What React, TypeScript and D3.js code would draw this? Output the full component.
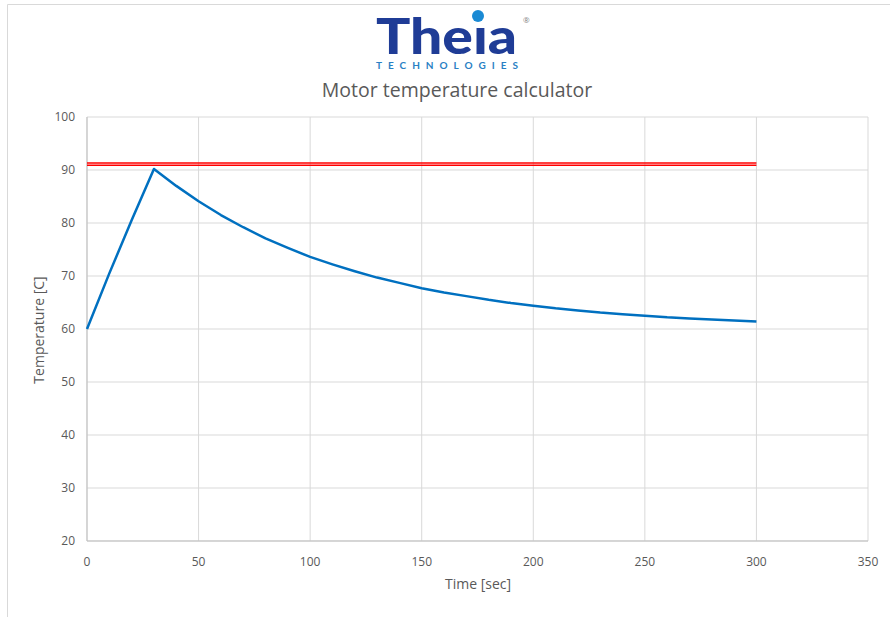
import * as d3 from 'd3'

// chart values
const timeSec = [0, 10, 20, 30, 40, 50, 60, 70, 80, 90, 100, 110, 120, 130, 140, 150, 160, 170, 180, 190, 200, 210, 220, 230, 240, 250, 260, 270, 280, 290, 300]
const motorTemp = [60, 70.5, 80.5, 90.2, 87.0, 84.1, 81.5, 79.2, 77.1, 75.3, 73.6, 72.2, 70.9, 69.7, 68.7, 67.7, 66.9, 66.2, 65.5, 64.9, 64.4, 63.9, 63.5, 63.1, 62.8, 62.5, 62.2, 62.0, 61.8, 61.6, 61.4]
const limitTime = [0, 300]
const limitUpper = [91.3, 91.3]
const limitLower = [90.9, 90.9]
const xTicks = [0, 50, 100, 150, 200, 250, 300, 350]
const yTicks = [20, 30, 40, 50, 60, 70, 80, 90, 100]

const W = 890
const H = 617
const FONT = '"Open Sans", "Noto Sans", sans-serif'

export default function App() {
  const x = d3.scaleLinear().domain([0, 350]).range([87, 868])
  const y = d3.scaleLinear().domain([20, 100]).range([541, 117])

  const line = d3.line<number>()
    .x((_, i) => x(timeSec[i]))
    .y(d => y(d))

  const limitLine = d3.line<number>()
    .x((_, i) => x(limitTime[i]))
    .y(d => y(d))

  return (
    <svg
      width={W}
      height={H}
      style={{ position: 'fixed', left: 0, top: 0, background: '#fff' }}
      fontFamily={FONT}
    >
      {/* chart frame */}
      <line x1={7.5} x2={890} y1={4.5} y2={4.5} stroke="#d9d9d9" />
      <line x1={7.5} x2={7.5} y1={4.5} y2={617} stroke="#d9d9d9" />

      {/* logo */}
      <text x={376} y={54} fontFamily='"Lato", "Roboto", sans-serif' fontWeight={900}
        fontSize={50} fill="#1f3c96" textLength={141} lengthAdjust="spacingAndGlyphs">
        Theıa
      </text>
      <circle cx={478} cy={16} r={6} fill="#1a8ad4" />
      <text x={523} y={23} fontSize={8} fill="#7f7f7f">®</text>
      <text x={376} y={69} fontFamily='"Lato", "Roboto", sans-serif' fontWeight={700}
        fontSize={10} fill="#2a7fc4" textLength={142} lengthAdjust="spacing">
        TECHNOLOGIES
      </text>

      {/* title */}
      <text x={457} y={97} textAnchor="middle" fontSize={19.5} fill="#595959">
        Motor temperature calculator
      </text>

      {/* grid */}
      {yTicks.map(t => (
        <line key={'gy' + t} x1={x(0)} x2={x(350)} y1={y(t)} y2={y(t)} stroke="#d9d9d9" />
      ))}
      {xTicks.map(t => (
        <line key={'gx' + t} x1={x(t)} x2={x(t)} y1={y(20)} y2={y(100)} stroke="#d9d9d9" />
      ))}
      {/* axes */}
      <line x1={x(0)} x2={x(0)} y1={y(20)} y2={y(100)} stroke="#bfbfbf" />
      <line x1={x(0)} x2={x(350)} y1={y(20)} y2={y(20)} stroke="#bfbfbf" />

      {/* tick labels */}
      {yTicks.map(t => (
        <text key={'ly' + t} x={75} y={y(t) + 4} textAnchor="end" fontSize={12} fill="#595959">
          {t}
        </text>
      ))}
      {xTicks.map(t => (
        <text key={'lx' + t} x={x(t)} y={566} textAnchor="middle" fontSize={12} fill="#595959">
          {t}
        </text>
      ))}

      {/* axis titles */}
      <text x={478} y={589} textAnchor="middle" fontSize={14} fill="#595959">Time [sec]</text>
      <text transform={`translate(44,${330}) rotate(-90)`} textAnchor="middle" fontSize={14} fill="#595959">
        Temperature [C]
      </text>

      {/* limit */}
      <path d={limitLine(limitUpper) ?? ''} fill="none" stroke="#ff0000" strokeWidth={1.5} />
      <path d={limitLine(limitLower) ?? ''} fill="none" stroke="#ff0000" strokeWidth={1.5} />

      {/* temperature */}
      <path d={line(motorTemp) ?? ''} fill="none" stroke="#0070c0" strokeWidth={2.5} strokeLinejoin="round" />
    </svg>
  )
}
